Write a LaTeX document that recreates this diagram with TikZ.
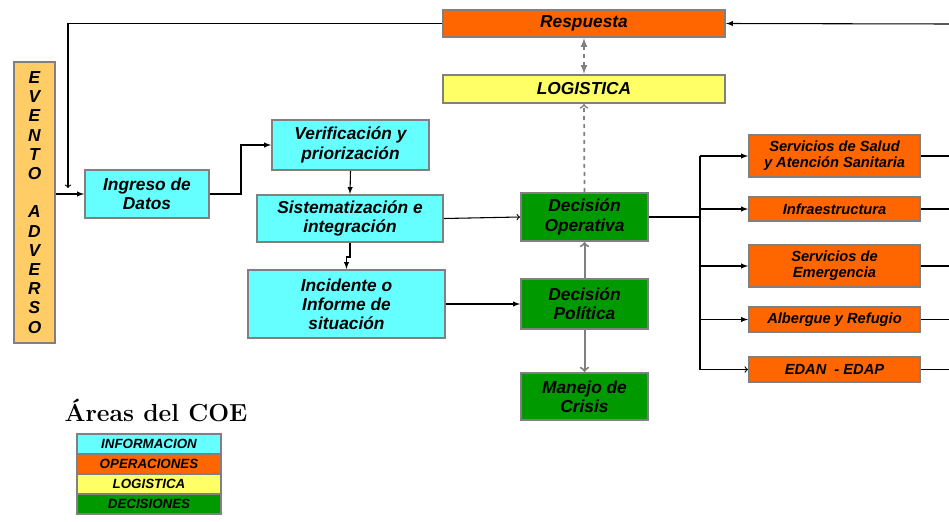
\documentclass[tikz,border=0pt]{standalone}
\usepackage{fontspec}
\setsansfont{Liberation Sans}
\definecolor{cian}{HTML}{66FFFF}
\definecolor{naranja}{HTML}{FF6600}
\definecolor{amarillo}{HTML}{FFFF66}
\definecolor{verde}{HTML}{009900}
\definecolor{crema}{HTML}{FFCC66}
\definecolor{borde}{HTML}{808080}

\begin{document}
\begin{tikzpicture}[x=0.75pt,y=-0.75pt,
	area/.style={draw=borde,line width=1.5pt,align=center,inner sep=0pt,
		font=\sffamily\bfseries\itshape\fontsize{13}{14.4}\selectfont},
	chica/.style={font=\sffamily\bfseries\itshape\fontsize{11}{12}\selectfont},
	caja/.style n args={2}{minimum width=#1*0.75pt,minimum height=#2*0.75pt},
	gris/.style={draw=borde,line width=1.5pt},
	rayas/.style={draw=borde,line width=1.3pt,dashed}]
				%%%%% START %%%%%
				\useasboundingbox (0,0) rectangle (949,521);
				\def\xbus{700}
				\def\xmargen{949}

				\node[area,caja={41}{281},fill=crema] (evento) at (34.5,202.5)
					{E\\V\\E\\N\\T\\O\\[14.4pt]A\\D\\V\\E\\R\\S\\O};

				\node[area,caja={124}{48},fill=cian] (ingreso) at (147,194) {Ingreso de\\Datos};
				\node[area,caja={157}{50},fill=cian] (verif) at (350.5,145) {Verificación y\\priorización};
				\node[area,caja={186}{47},fill=cian] (sist) at (350,218.5) {Sistematización e\\integración};
				\node[area,caja={197}{68},fill=cian] (incid) at (346.5,304) {Incidente o\\Informe de\\situación};

				\node[area,caja={282}{27},fill=naranja] (resp) at (584,23.5) {Respuesta};
				\node[area,caja={282}{28},fill=amarillo] (logis) at (584,89) {LOGISTICA};

				\node[area,caja={127}{48},fill=verde] (opera) at (584.5,217) {Decisión\\Operativa};
				\node[area,caja={127}{50},fill=verde] (pol) at (584.5,304) {Decisión\\Política};
				\node[area,caja={127}{47},fill=verde] (crisis) at (584.5,396.5) {Manejo de\\Crisis};

				\node[area,chica,caja={171}{42},fill=naranja] (salud) at (834.5,156) {Servicios de Salud\\y Atención Sanitaria};
				\node[area,chica,caja={171}{24},fill=naranja] (infra) at (834.5,209) {Infraestructura};
				\node[area,chica,caja={171}{42},fill=naranja] (emerg) at (834.5,266) {Servicios de\\Emergencia};
				\node[area,chica,caja={171}{25},fill=naranja] (alberg) at (834.5,319.5) {Albergue y Refugio};
				\node[area,chica,caja={171}{25},fill=naranja] (edan) at (834.5,369.5) {EDAN \ - EDAP};

				% leyenda
				\node[font=\bfseries\fontsize{18.5}{20}\selectfont] (titulo) at (156,410) {Áreas del COE};
				\foreach \etiq/\col/\yy [count=\i] in {INFORMACION/cian/444,OPERACIONES/naranja/464,
						LOGISTICA/amarillo/484,DECISIONES/verde/504}
					\node[area,caja={144}{20},fill=\col,font=\sffamily\bfseries\itshape\fontsize{10}{11}\selectfont]
						(ley\i) at (149,\yy) {\etiq};

				% conectores
				\coordinate (retorno) at (68,188);
				\coordinate (margen) at (\xmargen,24);
				\coordinate (bus) at (\xbus,217);

				\draw[thick,-latex] (evento.east |- ingreso) -- (ingreso.west);
				\draw[thick,->] (resp.west) -| (retorno);
				\draw[thick,-latex] (margen) -- (resp.east);
				\draw[thick,-latex] (ingreso.east) -- ++(31,0) |- (verif.west);
				\draw[thick,-latex] (verif.south) -- (sist.north);
				\draw[thick,-latex] (sist.south) -- ++(0,14) -| (incid.north);
				\draw[thick,->] (sist.east) -- (opera.west);
				\draw[thick,-latex] (incid.east) -- (pol.west);

				\draw[gris,->] (pol.north) -- (opera.south);
				\draw[gris,->] (pol.south) -- (crisis.north);
				\draw[rayas,->] (opera.north) -- (logis.south);
				\draw[rayas,latex-latex] (logis.north) -- (resp.south);

				\draw[thick] (opera.east) -- (bus);
				\draw[thick] (bus |- salud) -- (bus |- edan);
				\foreach \n in {salud,infra,emerg,alberg}
					\draw[thick,-latex] (bus |- \n) -- (\n.west);
				\draw[thick,->] (bus |- edan) -- (edan.west);
				\foreach \n in {salud,infra,emerg,alberg,edan}
					\draw[thick] (\n.east) -- (\n.east -| margen);
				%%%%% START %%%%%
\end{tikzpicture}
\end{document}
